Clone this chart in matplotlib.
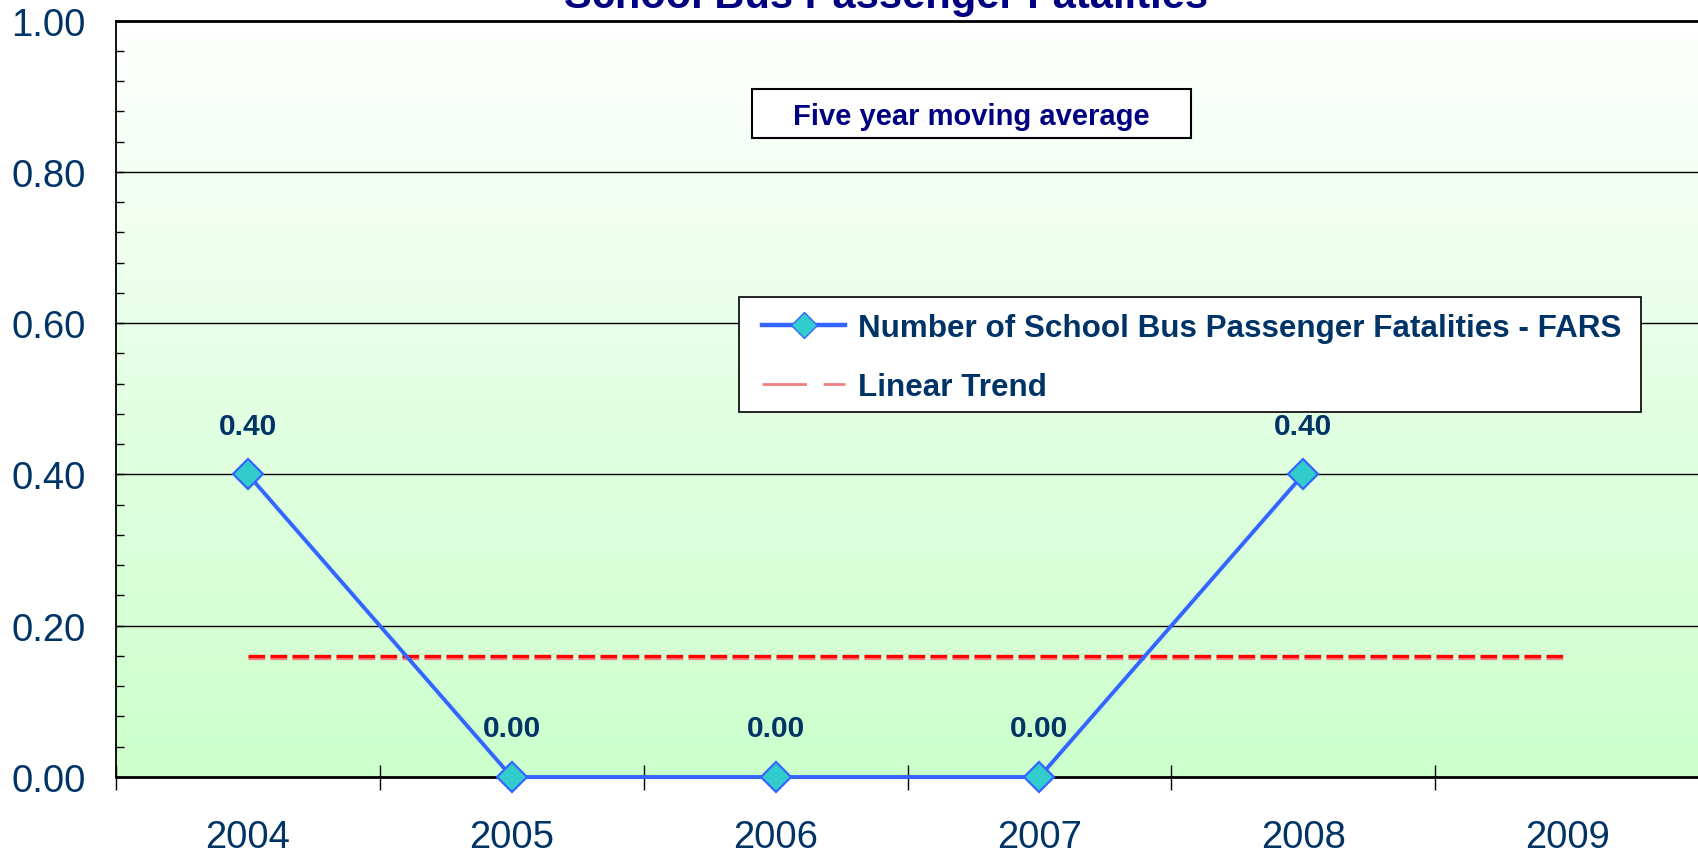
import numpy as np
import matplotlib
matplotlib.use("Agg")
import matplotlib.pyplot as plt
from matplotlib.lines import Line2D
from matplotlib.patches import Rectangle
import matplotlib.patheffects as pe
from matplotlib.colors import LinearSegmentedColormap

plt.rcParams['font.family'] = ['Liberation Sans', 'DejaVu Sans']

years = ['2004', '2005', '2006', '2007', '2008', '2009']
values = [0.40, 0.00, 0.00, 0.00, 0.40]
value_labels = ['0.40', '0.00', '0.00', '0.00', '0.40']
y_ticks = [0.0, 0.2, 0.4, 0.6, 0.8, 1.0]
y_tick_labels = ['0.00', '0.20', '0.40', '0.60', '0.80', '1.00']
title = 'School Bus Passenger Fatalities'
series_name = 'Number of School Bus Passenger Fatalities - FARS'
trend_name = 'Linear Trend'
note = 'Five year moving average'

fig = plt.figure(figsize=(16.99, 8.54), dpi=100)
ax = fig.add_axes([0.0683, 0.089, 0.9317, 0.8857])

x_data = np.arange(len(values))
x_all = np.arange(len(years))

# background gradient
cmap = LinearSegmentedColormap.from_list('bg', ['#CCFFCC', '#E4FFE4', '#FFFFFF'])
grad = np.linspace(0, 1, 256).reshape(-1, 1)
ax.imshow(grad, aspect='auto', cmap=cmap, origin='lower',
          extent=(-0.5, len(years) - 0.5, 0, 1), zorder=0)

ax.set_xlim(-0.5, len(years) - 0.5)
ax.set_ylim(0, 1)

# gridlines
for yv in y_ticks[1:-1]:
    ax.axhline(yv, color='#000000', lw=1.0, zorder=1)

# trend line
coef = np.polyfit(x_data, values, 1)
trend = np.polyval(coef, x_all)
ax.plot(x_all, trend, color='#FF0000', lw=2.4, dashes=(5, 1.6), zorder=2,
        path_effects=[pe.SimpleLineShadow(offset=(0, -1.2), shadow_color='#F08080', alpha=1.0),
                      pe.Normal()])

# main series
ax.plot(x_data, values, color='#3366FF', lw=2.8, marker='D', markersize=15.5,
        markerfacecolor='#33CCCC', markeredgecolor='#3366FF', markeredgewidth=1.6, zorder=4,
        clip_on=False)

for xi, yi, lab in zip(x_data, values, value_labels):
    ax.annotate(lab, (xi, yi), xytext=(0, 35), textcoords='offset points',
                ha='center', va='center', fontsize=21.5, fontweight='bold', color='#003366',
                zorder=5)

# axes styling
ax.set_yticks(y_ticks)
ax.set_yticklabels(y_tick_labels)
ax.set_yticks(np.arange(0, 1.0001, 0.04), minor=True)
ax.tick_params(axis='y', which='both', direction='in', length=6, width=1, color='#000000',
               labelsize=27.5, labelcolor='#003366', pad=22)
ax.set_xticks(x_all)
ax.set_xticklabels(years)
ax.set_xticks(np.arange(-0.5, len(years), 1.0), minor=True)
ax.tick_params(axis='x', which='major', length=0, labelsize=27.5, labelcolor='#003366', pad=30)
ax.tick_params(axis='x', which='minor', direction='inout', length=18, width=1, color='#000000')

for s in ['top', 'bottom']:
    ax.spines[s].set_linewidth(2.0)
    ax.spines[s].set_color('#000000')
ax.spines['left'].set_linewidth(1.3)
ax.spines['right'].set_visible(False)

# title
fig.text(0.5217, 0.9906, title, ha='center', va='baseline', fontsize=30,
         fontweight='bold', color='#000080')

# note box
ax.add_patch(Rectangle((0.4426, 0.8372), 0.2584, 0.0574, transform=fig.transFigure,
                       facecolor='white', edgecolor='#000000', lw=1.5, zorder=6))
fig.text(0.5718, 0.8630, note, ha='center', va='center', fontsize=21, fontweight='bold',
         color='#000080', zorder=7)

# legend frame
ax.add_patch(Rectangle((0.435, 0.5164), 0.5309, 0.1347, transform=fig.transFigure,
                       facecolor='white', edgecolor='#000000', lw=1.2, zorder=6,
                       clip_on=False))

handles = [
    Line2D([0], [0], color='#3366FF', lw=3.2, marker='D', markersize=13,
           markerfacecolor='#33CCCC', markeredgecolor='#3366FF'),
    Line2D([0], [0], color='#F08080', lw=2, dashes=(16, 6)),
]
leg = ax.legend(handles, [series_name, trend_name], loc='center left',
                bbox_to_anchor=(0.4485, 0.5800), bbox_transform=fig.transFigure,
                frameon=False, prop={'size': 22.6, 'weight': 'bold'}, labelcolor='#003366',
                handlelength=2.65, handletextpad=0.42, labelspacing=0.92,
                borderpad=0.0, borderaxespad=0)
leg.set_zorder(8)

fig.savefig('out.png', dpi=100)
